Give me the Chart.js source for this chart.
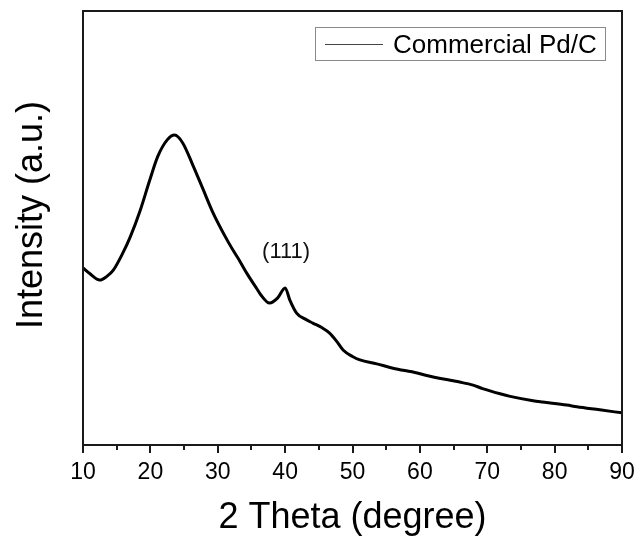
<!DOCTYPE html>
<html><head><meta charset="utf-8">
<script src="https://cdn.jsdelivr.net/npm/chart.js@4"></script>
<style>html,body{margin:0;padding:0;background:#fff}#wrap{width:641px;height:540px}</style>
</head><body><div id="wrap"><canvas id="c" width="641" height="540"></canvas></div>
<script>
const twoTheta = [10.0, 11.0, 12.5, 13.5, 14.5, 15.9, 17.0, 18.5, 19.9, 21.1, 22.5, 23.6, 24.8, 26.3, 27.8, 29.3, 31.4, 32.3, 33.3, 34.3, 35.8, 36.3, 37.7, 38.9, 40.0, 40.7, 41.7, 43.0, 44.1, 45.5, 46.6, 47.6, 48.6, 50.0, 51.1, 53.6, 56.0, 59.6, 61.0, 64.5, 65.9, 67.9, 69.3, 71.9, 73.4, 76.8, 78.2, 81.8, 83.3, 86.7, 90.0];
const intensity = [40.8, 39.5, 38.0, 38.8, 40.3, 44.2, 47.9, 54.1, 61.0, 66.5, 70.3, 71.4, 69.6, 64.5, 59.0, 53.5, 47.2, 44.8, 42.3, 39.6, 36.0, 34.8, 32.7, 33.9, 36.2, 33.4, 30.4, 29.0, 28.1, 27.0, 25.8, 24.0, 21.9, 20.4, 19.6, 18.7, 17.7, 16.6, 16.0, 14.9, 14.5, 13.8, 13.0, 11.8, 11.2, 10.2, 9.9, 9.2, 8.8, 8.1, 7.4];
const xTickValues = [10, 20, 30, 40, 50, 60, 70, 80, 90];
const xMinorTickValues = [15, 25, 35, 45, 55, 65, 75, 85];
const seriesLabel = 'Commercial Pd/C';
const xTitle = '2 Theta (degree)';
const yTitle = 'Intensity (a.u.)';
const peakLabel = '(111)';
const peakLabelAt = [40, 44.5];

const FONT = '"Liberation Sans", Arial, sans-serif';

const decor = {
  id: 'decor',
  afterDraw(chart) {
    const ctx = chart.ctx;
    const a = chart.chartArea;
    const xs = chart.scales.x, ys = chart.scales.y;
    ctx.save();
    // frame
    ctx.strokeStyle = '#1a1a1a';
    ctx.lineWidth = 2;
    ctx.strokeRect(a.left, a.top, a.right - a.left, a.bottom - a.top);
    // minor ticks
    ctx.lineWidth = 2;
    ctx.beginPath();
    xMinorTickValues.forEach(v => {
      const px = Math.round(xs.getPixelForValue(v));
      ctx.moveTo(px, a.bottom);
      ctx.lineTo(px, a.bottom + 5);
    });
    ctx.stroke();
    // axis titles
    ctx.fillStyle = '#000';
    ctx.font = '36px ' + FONT;
    ctx.textAlign = 'center';
    ctx.textBaseline = 'alphabetic';
    ctx.fillText(xTitle, (a.left + a.right) / 2, 528);
    ctx.save();
    ctx.translate(42, 215);
    ctx.rotate(-Math.PI / 2);
    ctx.font = '36px ' + FONT;
    ctx.fillText(yTitle, 0, 0);
    ctx.restore();
    // peak annotation
    ctx.font = '22px ' + FONT;
    ctx.textBaseline = 'middle';
    ctx.fillStyle = '#111';
    ctx.fillText(peakLabel, xs.getPixelForValue(peakLabelAt[0]) + 1, ys.getPixelForValue(peakLabelAt[1]));
    // legend
    const bx = a.right - 307, by = a.top + 16, bw = 290, bh = 33;
    ctx.strokeStyle = '#8a8a8a';
    ctx.lineWidth = 1;
    ctx.strokeRect(bx + 0.5, by + 0.5, bw, bh);
    ctx.strokeStyle = '#444';
    ctx.beginPath();
    ctx.moveTo(bx + 10, by + 17.5);
    ctx.lineTo(bx + 68, by + 17.5);
    ctx.stroke();
    ctx.fillStyle = '#000';
    ctx.font = '26px ' + FONT;
    ctx.textAlign = 'left';
    ctx.textBaseline = 'alphabetic';
    ctx.fillText(chart.data.datasets[0].label, bx + 78, by + 26);
    ctx.restore();
  }
};

new Chart(document.getElementById('c'), {
  type: 'line',
  data: {
    datasets: [{
      label: seriesLabel,
      data: twoTheta.map((x, i) => ({ x: x, y: intensity[i] })),
      borderColor: '#000',
      borderWidth: 3,
      pointRadius: 0,
      cubicInterpolationMode: 'monotone',
      fill: false
    }]
  },
  options: {
    responsive: false,
    animation: false,
    devicePixelRatio: 1,
    layout: { padding: { top: 11, right: 19, left: 0, bottom: 0 } },
    plugins: { legend: { display: false }, tooltip: { enabled: false } },
    scales: {
      x: {
        type: 'linear', min: 10, max: 90,
        afterBuildTicks: s => { s.ticks = xTickValues.map(v => ({ value: v })); },
        afterFit: s => { s.height = 95; },
        grid: { display: true, drawOnChartArea: false, drawTicks: true, tickLength: 8, color: '#1a1a1a', lineWidth: 2 },
        border: { display: false },
        ticks: { color: '#000', font: { size: 23, family: FONT }, padding: 6, maxRotation: 0 }
      },
      y: {
        min: 0, max: 100,
        afterFit: s => { s.width = 83; },
        grid: { display: false },
        border: { display: false },
        ticks: { display: false }
      }
    }
  },
  plugins: [decor]
});
</script>
</body></html>
